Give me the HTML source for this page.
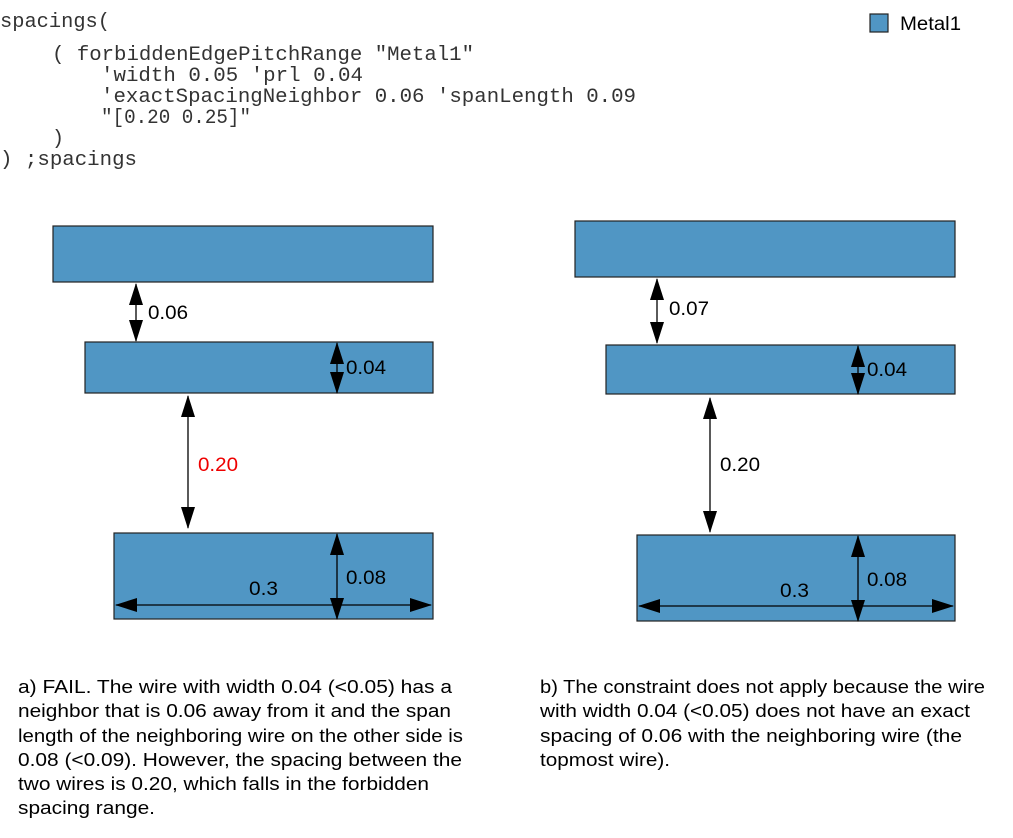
<!DOCTYPE html>
<html><head><style>
body{margin:0;background:#fff;width:1013px;height:838px;overflow:hidden;position:relative}
</style></head><body>
<svg width="1013" height="838" style="position:absolute;left:0;top:0" font-family="Liberation Sans, sans-serif" font-size="19">
<defs>
<marker id="a" viewBox="0 0 22 14" refX="21" refY="7" markerWidth="22" markerHeight="14" markerUnits="userSpaceOnUse" orient="auto-start-reverse"><path d="M0,0L22,7L0,14z" fill="#000"/></marker>
</defs>
<g font-family="Liberation Mono, monospace" font-size="20" fill="#333">
<text x="0" y="27" textLength="110" lengthAdjust="spacingAndGlyphs">spacings(</text>
<text x="52" y="60" textLength="422" lengthAdjust="spacingAndGlyphs">( forbiddenEdgePitchRange "Metal1"</text>
<text x="101" y="81" textLength="262" lengthAdjust="spacingAndGlyphs">'width 0.05 'prl 0.04</text>
<text x="101" y="102" textLength="535" lengthAdjust="spacingAndGlyphs">'exactSpacingNeighbor 0.06 'spanLength 0.09</text>
<text x="101" y="123" textLength="150" lengthAdjust="spacingAndGlyphs">"[0.20 0.25]"</text>
<text x="52" y="144">)</text>
<text x="0" y="165" textLength="137" lengthAdjust="spacingAndGlyphs">) ;spacings</text>
</g>
<g fill="#5096c4" stroke="#222" stroke-width="1.2">
<rect x="870" y="14" width="18" height="18"/>
<rect x="53" y="226" width="380" height="56"/>
<rect x="85" y="342" width="348" height="51"/>
<rect x="114" y="533" width="319" height="86"/>
<rect x="575" y="221" width="380" height="56"/>
<rect x="606" y="345" width="349" height="49"/>
<rect x="637" y="535" width="318" height="86"/>
</g>
<g stroke="#000" stroke-width="1.3" marker-start="url(#a)" marker-end="url(#a)">
<line x1="136" y1="284" x2="136" y2="341"/>
<line x1="337" y1="343" x2="337" y2="393"/>
<line x1="188" y1="396" x2="188" y2="528"/>
<line x1="337" y1="534" x2="337" y2="619"/>
<line x1="116" y1="605" x2="431" y2="605"/>
<line x1="657" y1="279" x2="657" y2="343"/>
<line x1="858" y1="346" x2="858" y2="394"/>
<line x1="710" y1="398" x2="710" y2="532"/>
<line x1="858" y1="536" x2="858" y2="621"/>
<line x1="639" y1="606" x2="953" y2="606"/>
</g>
<g lengthAdjust="spacingAndGlyphs">
<text x="900" y="30" textLength="61" lengthAdjust="spacingAndGlyphs">Metal1</text>
<text x="148" y="319" textLength="40" lengthAdjust="spacingAndGlyphs">0.06</text>
<text x="346" y="374" textLength="40" lengthAdjust="spacingAndGlyphs">0.04</text>
<text x="198" y="471" fill="#e00" textLength="40" lengthAdjust="spacingAndGlyphs">0.20</text>
<text x="346" y="584" textLength="40" lengthAdjust="spacingAndGlyphs">0.08</text>
<text x="249" y="595" textLength="29" lengthAdjust="spacingAndGlyphs">0.3</text>
<text x="669" y="315" textLength="40" lengthAdjust="spacingAndGlyphs">0.07</text>
<text x="867" y="376" textLength="40" lengthAdjust="spacingAndGlyphs">0.04</text>
<text x="720" y="471" textLength="40" lengthAdjust="spacingAndGlyphs">0.20</text>
<text x="867" y="586" textLength="40" lengthAdjust="spacingAndGlyphs">0.08</text>
<text x="780" y="597" textLength="29" lengthAdjust="spacingAndGlyphs">0.3</text>
</g>
<g font-size="18.5">
<text x="18" y="693" textLength="434" lengthAdjust="spacingAndGlyphs">a) FAIL. The wire with width 0.04 (&lt;0.05) has a</text>
<text x="18" y="717" textLength="433" lengthAdjust="spacingAndGlyphs">neighbor that is 0.06 away from it and the span</text>
<text x="18" y="742" textLength="445" lengthAdjust="spacingAndGlyphs">length of the neighboring wire on the other side is</text>
<text x="18" y="766" textLength="444" lengthAdjust="spacingAndGlyphs">0.08 (&lt;0.09). However, the spacing between the</text>
<text x="18" y="790" textLength="411" lengthAdjust="spacingAndGlyphs">two wires is 0.20, which falls in the forbidden</text>
<text x="18" y="814" textLength="137" lengthAdjust="spacingAndGlyphs">spacing range.</text>
<text x="540" y="693" textLength="445" lengthAdjust="spacingAndGlyphs">b) The constraint does not apply because the wire</text>
<text x="540" y="717" textLength="430" lengthAdjust="spacingAndGlyphs">with width 0.04 (&lt;0.05) does not have an exact</text>
<text x="540" y="742" textLength="422" lengthAdjust="spacingAndGlyphs">spacing of 0.06 with the neighboring wire (the</text>
<text x="540" y="766" textLength="130" lengthAdjust="spacingAndGlyphs">topmost wire).</text>
</g>
</svg>
</body></html>
